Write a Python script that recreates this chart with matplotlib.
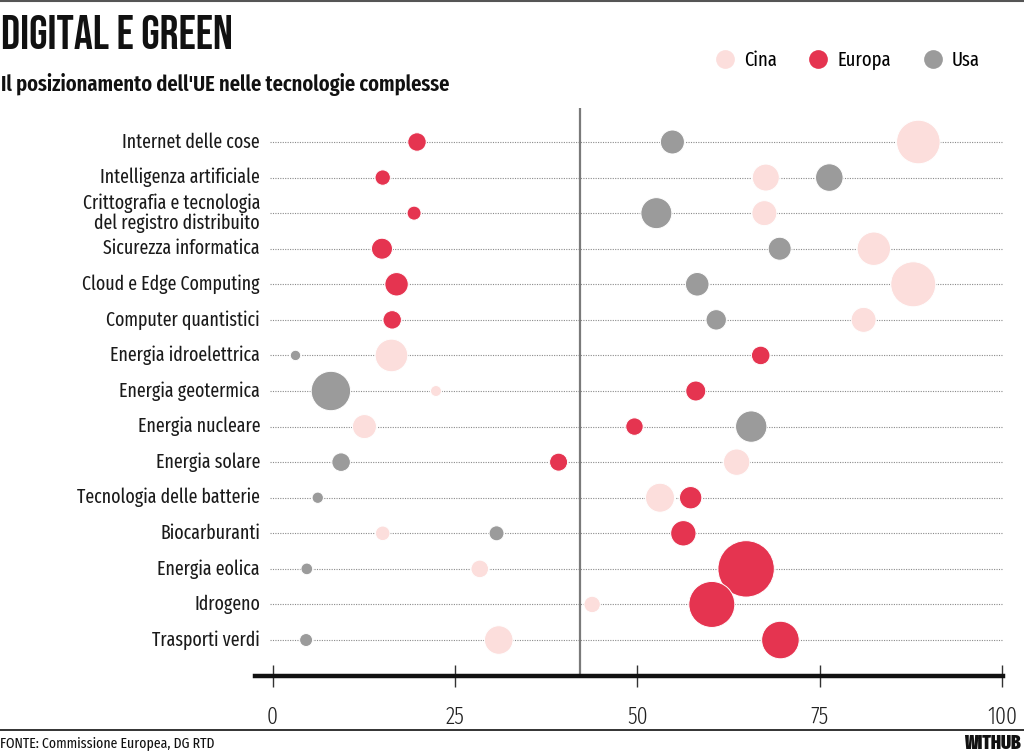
import numpy as np
import matplotlib
matplotlib.use("Agg")
import matplotlib.pyplot as plt
from matplotlib import font_manager
from matplotlib.lines import Line2D

# pick the first installed family from a list of candidates
_installed = set(f.name for f in font_manager.fontManager.ttflist)
def pick(*cands):
    for c in cands:
        if c in _installed:
            return c
    return "DejaVu Sans"

TITLE_FONT = pick("Bebas Neue", "League Gothic", "Oswald", "DejaVu Sans")
TEXT_FONT = pick("Fira Sans Extra Condensed", "PT Sans Narrow", "Roboto Condensed", "DejaVu Sans")

tecnologie = ["Internet delle cose", "Intelligenza artificiale",
              "Crittografia e tecnologia\ndel registro distribuito",
              "Sicurezza informatica", "Cloud e Edge Computing",
              "Computer quantistici", "Energia idroelettrica", "Energia geotermica",
              "Energia nucleare", "Energia solare", "Tecnologia delle batterie",
              "Biocarburanti", "Energia eolica", "Idrogeno", "Trasporti verdi"]

# posizione sull'asse 0-100
cina_x   = [88.5, 67.6, 67.4, 82.4, 87.8, 81.0, 16.3, 22.4, 12.6, 63.6, 53.1, 15.1, 28.4, 43.8, 31.0]
europa_x = [19.8, 15.1, 19.4, 15.0, 17.0, 16.4, 66.9, 58.0, 49.6, 39.2, 57.3, 56.3, 64.9, 60.2, 69.6]
usa_x    = [54.8, 76.3, 52.6, 69.5, 58.2, 60.8, 3.15, 8.0, 65.6, 9.4, 6.2, 30.7, 4.7, np.nan, 4.6]

# peso della bolla (area)
cina_peso   = [475, 182, 156, 279, 506, 156, 266, 30, 144, 174, 210, 53, 77, 67, 204]
europa_peso = [85, 59, 49, 110, 137, 85, 86, 100, 76, 81, 125, 161, 795, 529, 353]
usa_peso    = [144, 190, 240, 132, 139, 104, 27, 388, 246, 86, 32, 56, 34, np.nan, 42]

xticks = [0, 25, 50, 75, 100]
soglia = 42.1

COL_CINA = "#fcdedc"
COL_EUROPA = "#e53450"
COL_USA = "#9b9b9b"

fig = plt.figure(figsize=(10.24, 7.51), dpi=100)
ax = fig.add_axes([255 / 1024, 1 - 675.6 / 751, 748 / 1024, (675.6 - 108.2) / 751])

rows = np.arange(len(tecnologie))
k = 2.0736  # peso -> punti^2

for y in rows:
    ax.plot([-0.4, 100], [y, y], color="#8a8a8a", lw=0.8, ls=(0, (1, 1.2)), zorder=1)

ax.axvline(soglia, color="#7a7a7a", lw=1.6, zorder=2)

for xs, ps, col in ((cina_x, cina_peso, COL_CINA),
                    (usa_x, usa_peso, COL_USA),
                    (europa_x, europa_peso, COL_EUROPA)):
    xs = np.array(xs, dtype=float)
    ps = np.array(ps, dtype=float)
    ok = ~np.isnan(xs)
    ax.scatter(xs[ok], rows[ok], s=ps[ok] * k, color=col, edgecolors="white",
               linewidths=0.7, zorder=3)

for y, lab in zip(rows, tecnologie):
    ax.text(-1.7, y, lab, ha="right", va="center", ma="right", fontsize=14,
            family=TEXT_FONT, color="#1a1a1a", linespacing=1.0)

ax.set_xlim(-2.4, 100.1)
ax.set_ylim(15, -0.95)
for s in ("top", "right", "left"):
    ax.spines[s].set_visible(False)
ax.spines["bottom"].set_linewidth(3.2)
ax.spines["bottom"].set_color("#111111")
ax.set_yticks([])
ax.set_xticks(xticks)
ax.set_xticklabels([str(t) for t in xticks], family=TEXT_FONT, fontweight=300,
                   fontsize=17, color="#222222")
ax.tick_params(axis="x", direction="inout", length=16, width=1, color="#333333", pad=14)

# titoli
fig.text(1 / 1024, 1 - 49 / 751, "DIGITAL E GREEN", family=TITLE_FONT, fontsize=34,
         color="#111111", va="baseline", ha="left")
fig.text(1 / 1024, 1 - 91 / 751, "Il posizionamento dell'UE nelle tecnologie complesse",
         family=TEXT_FONT, fontweight=600, fontsize=16, color="#111111", va="baseline", ha="left")

# legenda
handles = [Line2D([], [], ls="none", marker="o", markersize=13.5, markerfacecolor=c,
                  markeredgewidth=0) for c in (COL_CINA, COL_EUROPA, COL_USA)]
fig.legend(handles, ["Cina", "Europa", "Usa"], ncol=3, frameon=False,
           loc="center left", bbox_to_anchor=(697 / 1024, 1 - 60 / 751),
           prop={"family": TEXT_FONT, "size": 14.5}, handletextpad=0.45,
           columnspacing=1.55, handlelength=1.0)

# linee di cornice e fonte
fig.add_artist(Line2D([0, 1], [1 - 1 / 751, 1 - 1 / 751], color="#555555", lw=1.5))
fig.add_artist(Line2D([0, 1], [1 - 730 / 751, 1 - 730 / 751], color="#111111", lw=1.2))
fig.text(0.5 / 1024, 1 - 743 / 751, "FONTE: Commissione Europea, DG RTD", family=TEXT_FONT,
         fontsize=10.8, color="#111111", va="center", ha="left")
fig.text(1021 / 1024, 1 - 743 / 751, "WITHUB", family=TEXT_FONT, fontweight=900,
         fontsize=13.5, color="#111111", va="center", ha="right")

fig.savefig("out.png", dpi=100)
